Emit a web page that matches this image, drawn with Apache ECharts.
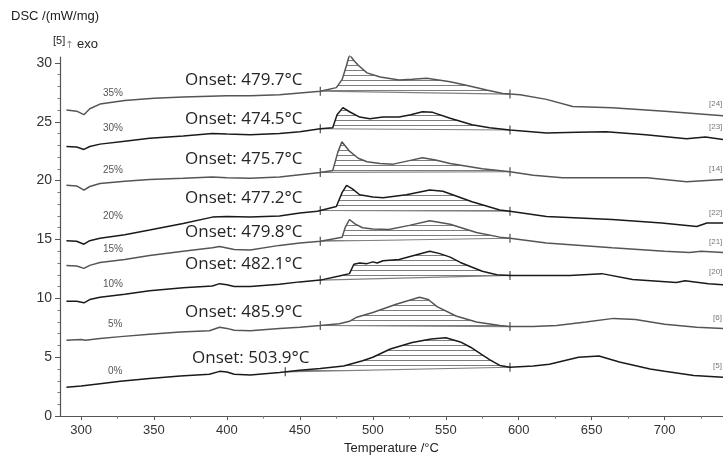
<!DOCTYPE html>
<html><head><meta charset="utf-8">
<script src="https://cdn.jsdelivr.net/npm/echarts@6/dist/echarts.min.js"></script>
<style>html,body{margin:0;padding:0;background:#fff}#c{width:723px;height:460px}</style>
</head><body><div id="c"></div>
<script>
// ---- data ----
const xTickLabels = [300, 350, 400, 450, 500, 550, 600, 650, 700];
const xMinorTicks = [325, 375, 425, 475, 525, 575, 625, 675, 725];
const yTickLabels = [0, 5, 10, 15, 20, 25, 30];
const yMinorTicks = [1,2,3,4,6,7,8,9,11,12,13,14,16,17,18,19,21,22,23,24,26,27,28,29];
const curveNames = ['35%', '30%', '25%', '20%', '15%', '10%', '5%', '0%'];
const onsetLabels = ['Onset: 479.7°C', 'Onset: 474.5°C', 'Onset: 475.7°C', 'Onset: 477.2°C',
                     'Onset: 479.8°C', 'Onset: 482.1°C', 'Onset: 485.9°C', 'Onset: 503.9°C'];
const runLabels = ['[24]', '[23]', '[14]', '[22]', '[21]', '[20]', '[6]', '[5]'];
const intLeft = [464, 464, 464, 464, 464, 464, 464, 440];
const intRight = [594, 594, 594, 594, 594, 594, 594, 594];

const c35 = [[290,26.0],[297,25.9],[302,25.6],[306,26.1],[313,26.5],[330,26.8],[350,27.0],[370,27.1],[400,27.2],[416,27.2],[436,27.3],[450,27.45],[464,27.6],[475,27.9],[479,28.6],[482,29.8],[484,30.7],[487,30.2],[490,29.8],[496,29.15],[505,28.8],[518,28.55],[527,28.6],[537,28.7],[553,28.4],[564,28.1],[578,27.7],[589,27.4],[594,27.35],[601,27.3],[619,26.9],[637,26.3],[664,26.2],[700,25.9],[740,25.5]];
const c30 = [[290,22.9],[297,22.85],[302,22.65],[306,22.9],[313,23.1],[330,23.35],[347,23.6],[370,23.8],[390,24.0],[400,23.95],[416,23.9],[436,24.0],[450,24.15],[464,24.4],[472.5,24.5],[475.5,25.6],[479.5,26.2],[484,25.85],[491,25.4],[498,25.25],[507,25.4],[518,25.4],[526,25.6],[534,25.85],[541,25.8],[553,25.3],[568,24.75],[580,24.5],[594,24.3],[619,24.05],[640,24.1],[660,24.15],[687,23.9],[715,23.55],[728,23.7],[740,23.5]];
const c25 = [[290,19.6],[297,19.55],[302,19.2],[306,19.5],[313,19.75],[330,19.95],[347,20.1],[370,20.2],[390,20.3],[400,20.25],[416,20.2],[436,20.3],[450,20.5],[464,20.7],[472.5,20.85],[476,22.4],[478.8,23.3],[484,22.5],[490,21.9],[496,21.6],[505,21.45],[514,21.4],[525,21.7],[534,21.95],[543,21.75],[553,21.45],[575,21.0],[594,20.75],[610,20.45],[630,20.25],[660,20.25],[688,20.25],[715,19.9],[740,20.1]];
const c20 = [[290,14.9],[297,14.85],[302,14.6],[306,14.9],[313,15.1],[330,15.4],[347,15.8],[370,16.35],[390,16.9],[400,16.95],[416,16.9],[436,17.0],[450,17.25],[462,17.4],[475,17.8],[479,19.0],[482,19.6],[486,19.3],[491,18.8],[500,18.6],[507,18.55],[523,18.8],[539,19.2],[548,19.1],[568,18.2],[587,17.5],[594,17.4],[619,16.95],[664,16.7],[698,16.4],[722,16.1],[729,16.4],[740,16.4]];
const c15 = [[290,12.8],[297,12.75],[302,12.55],[306,12.8],[313,13.05],[330,13.3],[347,13.65],[370,14.0],[390,14.3],[395,14.4],[405,14.15],[416,14.1],[436,14.5],[450,14.7],[464,14.85],[479,15.2],[481,16.0],[484,16.7],[488,16.3],[493,16.0],[500,15.9],[511,15.85],[525,16.2],[539,16.6],[553,16.3],[571,15.6],[587,15.2],[594,15.1],[619,14.7],[664,14.3],[700,14.0],[717,13.9],[725,14.0],[740,13.9]];
const c10 = [[290,9.75],[297,9.75],[302,9.62],[306,9.9],[313,10.1],[330,10.35],[347,10.65],[370,10.9],[390,11.05],[395,11.25],[400,11.15],[405,11.0],[416,11.0],[436,11.2],[450,11.4],[464,11.55],[477,11.9],[484,12.1],[487,12.9],[491,13.0],[496,12.95],[500,13.1],[503,13.0],[507,13.2],[518,13.3],[530,13.7],[539,14.0],[546,13.8],[553,13.5],[560,13.05],[575,12.3],[585,12.0],[594,11.95],[615,11.95],[635,11.95],[657,12.1],[678,11.6],[708,11.35],[714,11.5],[730,11.25],[740,11.15]];
const c5 = [[290,6.45],[300,6.5],[303,6.45],[313,6.6],[327,6.75],[347,6.95],[368,7.15],[388,7.25],[395,7.55],[400,7.45],[405,7.3],[416,7.25],[436,7.45],[450,7.55],[464,7.7],[477,7.85],[484,8.05],[489,8.4],[500,8.8],[516,9.5],[532,10.1],[538,9.9],[544,9.3],[557,8.5],[571,8.0],[587,7.7],[594,7.6],[610,7.6],[626,7.7],[646,8.0],[665,8.3],[680,8.2],[700,7.8],[722,7.55],[740,7.45]];
const c0 = [[290,2.45],[300,2.55],[313,2.75],[327,2.95],[347,3.2],[368,3.4],[388,3.55],[395,3.8],[400,3.75],[405,3.55],[416,3.5],[436,3.7],[450,3.9],[464,4.05],[480,4.25],[493,4.7],[500,5.0],[512,5.7],[527,6.25],[540,6.55],[550,6.65],[560,6.3],[567,5.85],[575,5.2],[580,4.8],[587,4.3],[594,4.15],[610,4.25],[621,4.4],[641,5.0],[655,5.1],[669,4.6],[690,4.0],[700,3.8],[720,3.45],[740,3.3]];

const curves = [c35, c30, c25, c20, c15, c10, c5, c0];
const curveColors = ['#555555', '#1a1a1a', '#555555', '#1a1a1a', '#555555', '#1a1a1a', '#555555', '#1a1a1a'];

// ---- build ----
function interp(c, x) {
  for (let i = 0; i < c.length - 1; i++) {
    if (x >= c[i][0] && x <= c[i + 1][0]) {
      const t = (x - c[i][0]) / (c[i + 1][0] - c[i][0]);
      return c[i][1] + t * (c[i + 1][1] - c[i][1]);
    }
  }
  return c[c.length - 1][1];
}

// horizontal hatch pattern (fill style)
const hatch = document.createElement('canvas');
hatch.width = 64; hatch.height = 5;
const hctx = hatch.getContext('2d');
hctx.fillStyle = 'rgb(125,125,125)';
hctx.fillRect(0, 0, 64, 1);
const hatchFill = { type: 'pattern', image: hatch, repeat: 'repeat' };

function hatchRender(params, api) {
  if (params.dataIndexInside !== 0) return null;
  const n = params.dataInsideLength;
  const top = [], bot = [];
  for (let k = 0; k < n; k++) {
    top.push(api.coord([api.value(0, k), api.value(1, k)]));
    bot.push(api.coord([api.value(0, k), api.value(2, k)]));
  }
  return {
    type: 'polygon', silent: true,
    shape: { points: top.concat(bot.reverse()) },
    style: { fill: hatchFill, stroke: null }
  };
}

const series = [];
curves.forEach((c, i) => {
  const L = intLeft[i], R = intRight[i];
  const yL = interp(c, L), yR = interp(c, R);
  const xs = [L].concat(c.filter(p => p[0] > L && p[0] < R).map(p => p[0])).concat([R]);
  const rows = xs.map(x => {
    const b = yL + (yR - yL) * (x - L) / (R - L);
    return [x, Math.max(b, interp(c, x)), b];
  });
  series.push({
    type: 'custom', data: rows, renderItem: hatchRender, silent: true, z: 1,
    encode: { x: 0, y: [1, 2] }
  });
  series.push({
    type: 'line', data: [[L, yL], [R, yR]], symbol: 'none', silent: true, z: 2,
    lineStyle: { color: '#808080', width: 1.1 }
  });
  series.push({
    type: 'scatter', data: [[L, yL], [R, yR]], symbol: 'rect', symbolSize: [1.3, 9],
    itemStyle: { color: '#333' }, silent: true, z: 3
  });
});
curves.forEach((c, i) => {
  series.push({
    type: 'line', name: curveNames[i], data: c, symbol: 'none', silent: true, z: 4,
    lineStyle: { color: curveColors[i], width: 1.5 }
  });
});

const onsetPos = [[185, 84], [185, 123], [185, 163], [185, 202], [185, 236], [185, 268], [185, 316], [192, 362]];
const pctPos = [[103, 94], [103, 129], [103, 171], [103, 217], [103, 250], [103, 285], [108, 325], [108, 372]];
const runPos = [[709, 105], [709, 128], [709, 170], [709, 214], [709, 243], [709, 273], [713, 319], [713, 367]];
const graphic = [];
onsetLabels.forEach((t, i) => graphic.push({
  type: 'text', left: onsetPos[i][0], top: onsetPos[i][1] - 12,
  style: { text: t, font: '17px "Open Sans"', fill: '#262626' }
}));
curveNames.forEach((t, i) => graphic.push({
  type: 'text', left: pctPos[i][0], top: pctPos[i][1] - 6,
  style: { text: t, font: '10px "Liberation Sans"', fill: '#555' }
}));
runLabels.forEach((t, i) => graphic.push({
  type: 'text', left: runPos[i][0], top: runPos[i][1] - 5,
  style: { text: t, font: '8px "Liberation Sans"', fill: '#777' }
}));
graphic.push({ type: 'text', left: 11, top: 10, style: { text: 'DSC /(mW/mg)', font: '13px "Liberation Sans"', fill: '#222' } });
graphic.push({ type: 'text', left: 53, top: 35, style: { text: '[5]', font: '11px "Liberation Sans"', fill: '#222' } });
graphic.push({ type: 'text', left: 65, top: 40, style: { text: '↑', font: '10px "DejaVu Sans"', fill: '#888' } });
graphic.push({ type: 'text', left: 77, top: 38, style: { text: 'exo', font: '13px "Liberation Sans"', fill: '#222' } });

const axisCommon = { type: 'value', min: 285.6, max: 740 };
const option = {
  animation: false,
  backgroundColor: '#fff',
  grid: { left: 60, right: 0, top: 57, bottom: 43 },
  xAxis: [
    Object.assign({}, axisCommon, {
      name: 'Temperature /°C', nameLocation: 'middle', nameGap: 24,
      nameTextStyle: { fontFamily: 'Liberation Sans', fontSize: 13, color: '#222' },
      axisLine: { lineStyle: { color: '#555', width: 1.2 } },
      axisTick: { customValues: xTickLabels, length: 4, lineStyle: { color: '#555' } },
      axisLabel: { customValues: xTickLabels, fontFamily: 'Liberation Sans', fontSize: 13, color: '#333', margin: 8 },
      splitLine: { show: false }
    }),
    Object.assign({}, axisCommon, {
      position: 'bottom',
      axisLine: { show: false },
      axisTick: { customValues: xMinorTicks, length: 2.5, lineStyle: { color: '#777' } },
      axisLabel: { show: false },
      splitLine: { show: false }
    })
  ],
  yAxis: [
    {
      type: 'value', min: 0, max: 30.5,
      axisLine: { show: true, lineStyle: { color: '#555', width: 1.2 } },
      axisTick: { show: true, customValues: yTickLabels, length: 5, lineStyle: { color: '#555' } },
      axisLabel: { customValues: yTickLabels, fontFamily: 'Liberation Sans', fontSize: 14, color: '#333', margin: 8 },
      splitLine: { show: false }
    },
    {
      type: 'value', min: 0, max: 30.5, position: 'left',
      axisLine: { show: false },
      axisTick: { show: true, customValues: yMinorTicks, length: 2.5, lineStyle: { color: '#777' } },
      axisLabel: { show: false },
      splitLine: { show: false }
    }
  ],
  series: series,
  graphic: graphic
};
echarts.init(document.getElementById('c')).setOption(option);
</script></body></html>
